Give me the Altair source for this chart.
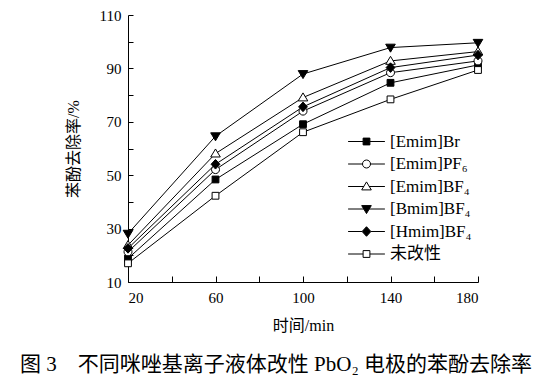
import altair as alt
import pandas as pd

# ---- data ----
times = [20, 60, 100, 140, 180]
series = ["[Emim]Br", "[Emim]PF₆", "[Emim]BF₄", "[Bmim]BF₄", "[Hmim]BF₄", "未改性"]
emim_br = [18.8, 48.4, 69.1, 84.6, 91.3]
emim_pf6 = [21.3, 52.1, 74.0, 88.4, 92.8]
emim_bf4 = [23.8, 58.1, 79.1, 92.8, 96.3]
bmim_bf4 = [28.1, 64.6, 87.9, 97.8, 99.6]
hmim_bf4 = [22.6, 54.1, 75.6, 90.3, 95.0]
unmodified = [17.0, 42.3, 66.1, 78.4, 89.4]

values = [emim_br, emim_pf6, emim_bf4, bmim_bf4, hmim_bf4, unmodified]
fills = ["black", "white", "white", "black", "black", "white"]
strokes = ["black"] * 6

# marker shapes (unit square -1..1)
plot_shapes = [
    "M-0.85,-0.85H0.85V0.85H-0.85Z",
    "M1,0A1,1 0 1,1 -1,0A1,1 0 1,1 1,0Z",
    "M0,-1.15L1.2,0.85L-1.2,0.85Z",
    "M0,1.15L1.2,-0.85L-1.2,-0.85Z",
    "M0,-1.2L1.1,0L0,1.2L-1.1,0Z",
    "M-0.85,-0.85H0.85V0.85H-0.85Z",
]
cut = [0.85, 1.0, 0.65, 0.65, 1.1, 0.85]
legend_shapes = [
    f"M-4.6,0H-{c}M{c},0H4.6" + s for c, s in zip(cut, plot_shapes)
]

rows = []
for name, vals in zip(series, values):
    for t, v in zip(times, vals):
        rows.append({"t": t, "v": v, "s": name})
df = pd.DataFrame(rows)

SERIF = "Times New Roman, Liberation Serif, Noto Sans CJK SC"
W, H = 350, 267

xscale = alt.Scale(domain=[20, 180], nice=False)
yscale = alt.Scale(domain=[10, 110], nice=False)
xticks = list(range(20, 181, 20))
yticks = list(range(10, 111, 10))

base = alt.Chart(df)

lines = base.mark_line(color="black", strokeWidth=1).encode(
    x=alt.X("t:Q", scale=xscale, axis=alt.Axis(
        values=xticks, labelExpr="datum.value % 40 == 20 ? datum.label : ''",
        ticks=False, tickSize=0, title="时间/min", grid=False,
        labelPadding=8, titlePadding=12)),
    y=alt.Y("v:Q", scale=yscale, axis=alt.Axis(
        values=yticks, labelExpr="datum.value % 20 == 10 ? datum.label : ''",
        ticks=False, tickSize=0, title="苯酚去除率/%", grid=False,
        labelPadding=7, titlePadding=18)),
    detail="s:N",
)

points = base.mark_point(size=64, stroke="black", strokeWidth=1, opacity=1, filled=False).encode(
    x=alt.X("t:Q", scale=xscale, axis=alt.Axis(
        orient="top", offset=-H, values=xticks, labels=False, domain=False,
        tickSize=6, tickColor="black", title=None, grid=False)),
    y=alt.Y("v:Q", scale=yscale, axis=alt.Axis(
        orient="right", offset=-W, values=yticks, labels=False, domain=False,
        tickSize=5, tickColor="black", title=None, grid=False)),
    shape=alt.Shape("s:N", scale=alt.Scale(domain=series, range=plot_shapes), legend=None),
    fill=alt.Fill("s:N", scale=alt.Scale(domain=series, range=fills), legend=None),
)


def leg():
    return alt.Legend(title=None, orient="none", legendX=230, legendY=118,
                      symbolOpacity=1, symbolStrokeColor="black",
                      symbolStrokeWidth=1, symbolSize=64,
                      labelOffset=15, rowPadding=4.5, padding=0,
                      labelFont=SERIF, labelFontSize=17, labelColor="black",
                      labelLimit=200)


legend_layer = base.mark_point(size=64, strokeWidth=1, opacity=0, filled=False).encode(
    x=alt.X("t:Q", scale=xscale, axis=None),
    y=alt.Y("v:Q", scale=yscale, axis=None),
    shape=alt.Shape("s:N", scale=alt.Scale(domain=series, range=legend_shapes), legend=leg()),
    fill=alt.Fill("s:N", scale=alt.Scale(domain=series, range=fills), legend=leg()),
    stroke=alt.Stroke("s:N", scale=alt.Scale(domain=series, range=strokes), legend=leg()),
)

chart = alt.layer(lines, points, legend_layer).resolve_scale(
    shape="independent", fill="independent", stroke="independent"
).resolve_axis(x="independent", y="independent").properties(
    width=W, height=H,
    autosize=alt.AutoSizeParams(type="none"),
    padding={"left": 120, "top": 7, "right": 60, "bottom": 97},
    title=alt.TitleParams(
        "图 3　不同咪唑基离子液体改性 PbO₂ 电极的苯酚去除率",
        orient="bottom", anchor="middle", dx=-27, offset=21,
        font=SERIF, fontSize=21, fontWeight="normal", color="black"),
).configure_view(stroke=None).configure_axis(
    domainColor="black", domainWidth=1, labelFont=SERIF, labelFontSize=15,
    labelColor="black", titleFont=SERIF, titleFontSize=16, titleColor="black",
    titleFontWeight="normal", labelAngle=0,
)

chart.save("out.html", embed_options={"renderer": "svg", "actions": False})
